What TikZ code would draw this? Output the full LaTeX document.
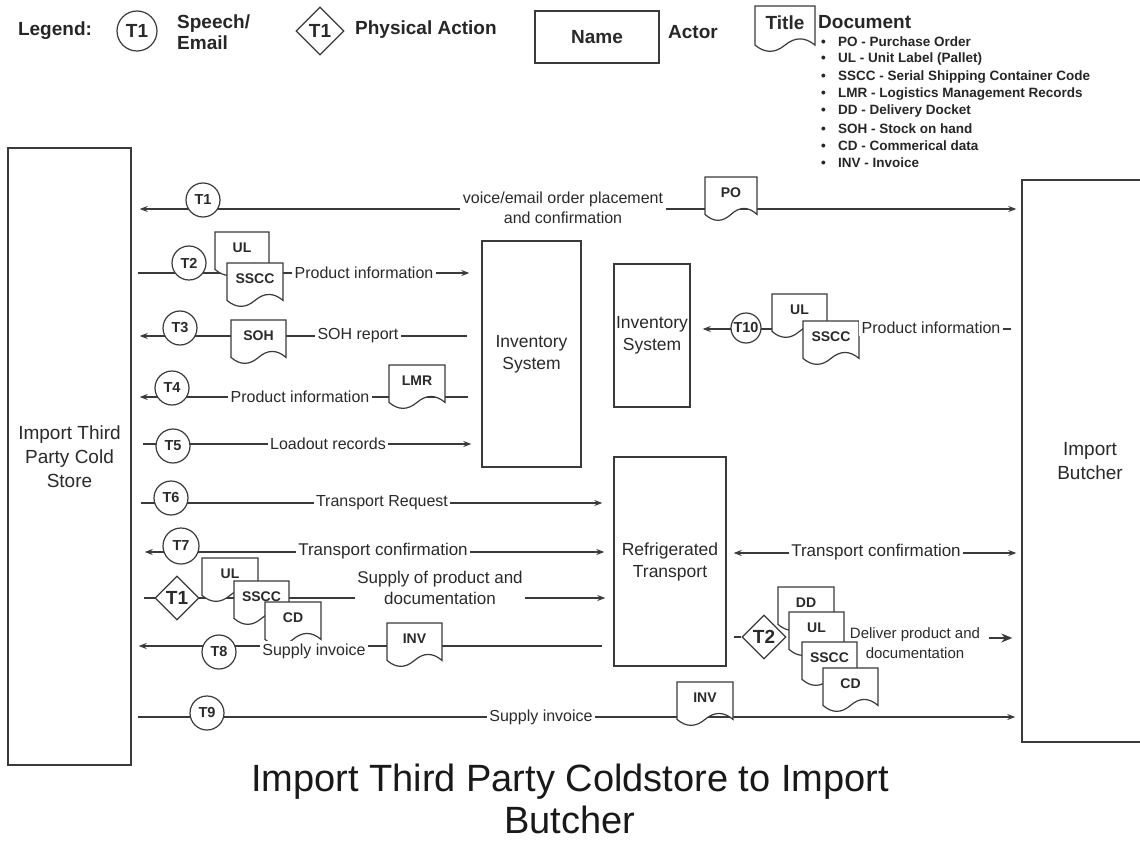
\documentclass[tikz,border=0pt]{standalone}
\usepackage{fontspec}
\setmainfont{Liberation Sans}
\usetikzlibrary{shapes.geometric,arrows.meta,calc}
\pgfdeclarelayer{bg}
\pgfsetlayers{bg,main}
\definecolor{lc}{HTML}{3A3A3A}
\definecolor{txt}{HTML}{2A2A2A}
\newcommand\fLbl{\fontsize{16}{20}\selectfont}
\newcommand\fLblB{\fontsize{17}{21}\selectfont}
\newcommand\fLblS{\fontsize{15}{20}\selectfont}
\newcommand\fAct{\fontsize{19}{24}\selectfont}
\newcommand\fActs{\fontsize{17.5}{22}\selectfont}
\newcommand\fCir{\fontsize{14.5}{16}\selectfont\bfseries}
\newcommand\fDia{\fontsize{19}{20}\selectfont\bfseries}
\newcommand\fDoc{\fontsize{14}{16}\selectfont\bfseries}
\newcommand\fLeg{\fontsize{19}{21}\selectfont\bfseries}
\newcommand\fBul{\fontsize{13.5}{16}\selectfont\bfseries}
\newcommand\fTitle{\fontsize{38}{42}\selectfont}
% document shape: name, x left, y top, width, height, label
\newcommand\docnode[6]{%
  \draw[docshape] (#2,#3) -- (#2+#4,#3) -- (#2+#4,#3+0.85*#5)
    .. controls (#2+0.8333*#4,#3+0.67*#5) and (#2+0.6667*#4,#3+0.67*#5) .. (#2+0.5*#4,#3+0.85*#5)
    .. controls (#2+0.3333*#4,#3+1.03*#5) and (#2+0.1667*#4,#3+1.03*#5) .. (#2,#3+0.85*#5) -- cycle;
  \node[doclabel] (#1) at (#2+0.5*#4,#3+0.36*#5) {#6};}
\begin{document}
\begin{tikzpicture}[x=1pt,y=-1pt,
  >={Stealth[length=8pt,width=6pt]},
  actor/.style={draw=lc, line width=1.4pt, fill=white, align=center, font=\fAct, text=txt, inner sep=0pt},
  tcirc/.style={circle, draw=lc, line width=1.2pt, fill=white, minimum size=34pt, inner sep=0pt, font=\fCir, text=txt},
  tdiam/.style={diamond, draw=lc, line width=1.2pt, fill=white, minimum width=44pt, minimum height=44pt, inner sep=0pt, font=\fDia, text=txt},
  lbl/.style={fill=white, inner sep=2.5pt, font=\fLbl, text=txt, align=center},
  doclabel/.style={font=\fDoc, text=txt, inner sep=0pt},
  docshape/.style={draw=lc, line width=1.2pt, fill=white},
  conn/.style={draw=lc, line width=1.2pt},
  leg/.style={font=\fLeg, text=black!85, inner sep=0pt, align=left},
  bul/.style={font=\fBul, text=black!85, inner sep=0pt}
]
\useasboundingbox (0,0) rectangle (1140,845);

% ---------- legend ----------
\node[leg] (legt) at (55,31) {Legend:};
\node[tcirc, minimum size=40pt, font=\fDia] (lc1) at (137,31) {T1};
\node[leg, anchor=west] (lse) at (177,32) {Speech/\\Email};
\node[tdiam, minimum width=48pt, minimum height=48pt] (ld1) at (320,31) {T1};
\node[leg, anchor=west] (lpa) at (355,30) {Physical Action};
\node[actor, minimum width=124pt, minimum height=52pt, font=\fLeg] (lname) at (597,37) {Name};
\node[leg, anchor=west] (lact) at (668,32) {Actor};
\docnode{ltitle}{755}{6}{60}{46}{\fLeg Title}
\node[leg, anchor=west] (ldoc) at (818,22) {Document};
\foreach \t [count=\i from 0] in {PO - Purchase Order, UL - Unit Label (Pallet), SSCC - Serial Shipping Container Code, LMR - Logistics Management Records, DD - Delivery Docket, SOH - Stock on hand, CD - Commerical data, INV - Invoice}
  \node[bul, anchor=west] (b\i) at (821,42+17.3*\i) {\makebox[17pt][l]{•}\t};

% ---------- actors ----------
\node[actor, minimum width=123pt, minimum height=617pt] (cold) at (69.5,456.5) {Import Third\\Party Cold\\Store};
\node[actor, minimum width=136pt, minimum height=562pt] (butcher) at (1090,461) {Import\\Butcher};
\node[actor, minimum width=99pt, minimum height=226pt, font=\fActs] (invbig) at (531.5,354) {Inventory\\System};
\node[actor, minimum width=76pt, minimum height=143pt, font=\fActs] (invsmall) at (652,335.5) {Inventory\\System};
\node[actor, minimum width=112pt, minimum height=209pt, font=\fActs] (refrig) at (670,561.5) {Refrigerated\\Transport};

% ---------- T1 ----------
\node[tcirc] (c1) at (203,200) {T1};
\node[lbl] (l1) at (563,208) {voice/email order placement\\and confirmation};
\docnode{po}{705}{177}{52}{44}{PO}
% ---------- T2 ----------
\node[tcirc] (c2) at (189,263) {T2};
\docnode{ul2}{215}{232}{54}{44}{UL}
\docnode{sscc2}{227}{263}{56}{44}{SSCC}
\node[lbl] (l2) at (364,273) {Product information};
% ---------- T3 ----------
\node[tcirc] (c3) at (180,328) {T3};
\docnode{soh}{231}{320}{55}{44}{SOH}
\node[lbl] (l3) at (358,336) {SOH report};
% ---------- T4 ----------
\node[tcirc] (c4) at (172,388) {T4};
\node[lbl] (l4) at (300,397) {Product information};
\docnode{lmr}{389}{365}{56}{44}{LMR}
% ---------- T5 ----------
\node[tcirc] (c5) at (173,446) {T5};
\node[lbl] (l5) at (328,444) {Loadout records};
% ---------- T6 ----------
\node[tcirc] (c6) at (171,498) {T6};
\node[lbl] (l6) at (382,503) {Transport Request};
% ---------- T7 ----------
\node[tcirc, minimum size=36pt] (c7) at (181,546) {T7};
\node[lbl, font=\fLblB] (l7) at (383,551) {Transport confirmation};
% ---------- supply ----------
\node[tdiam] (d1) at (177,598) {T1};
\docnode{ulS}{202}{558}{56}{44}{UL}
\docnode{ssccS}{234}{581}{55}{44}{SSCC}
\docnode{cdS}{265}{602}{56}{44}{CD}
\node[lbl, font=\fLblB] (lS) at (440,588) {Supply of product and\\documentation};
% ---------- T8 ----------
\node[tcirc] (c8) at (219,652) {T8};
\node[lbl] (l8) at (314,651) {Supply invoice};
\docnode{inv8}{387}{623}{55}{44}{INV}
% ---------- T9 ----------
\node[tcirc] (c9) at (207,713) {T9};
\node[lbl] (l9) at (541,717) {Supply invoice};
\docnode{inv9}{677}{682}{56}{44}{INV}
% ---------- T10 ----------
\node[tcirc, minimum size=30pt] (c10) at (746,328) {T10};
\docnode{ul10}{772}{294}{55}{44}{UL}
\docnode{sscc10}{803}{321}{56}{44}{SSCC}
\node[lbl] (l10) at (931,328) {Product information};
% ---------- transport confirmation right ----------
\node[lbl, font=\fLblB] (ltc) at (876,552) {Transport confirmation};
% ---------- T2 delivery ----------
\node[tdiam] (d2) at (764,637) {T2};
\docnode{dd}{778}{587}{56}{44}{DD}
\docnode{ulD}{789}{612}{55}{44}{UL}
\docnode{ssccD}{802}{642}{55}{44}{SSCC}
\docnode{cdD}{823}{668}{55}{44}{CD}
\node[lbl, font=\fLblS, fill=none, inner sep=0pt] (ld) at (915,643) {Deliver product and\\documentation};
\coordinate (dvs) at (989,638);

% ---------- title ----------
\node[font=\fTitle, align=center, text=black!90] (title) at (570,799) {Import Third Party Coldstore to Import\\Butcher};

% ---------- connectors ----------
\begin{pgfonlayer}{bg}
\draw[conn,<->,shorten <=8pt,shorten >=5pt] (cold.east |- 0,209) -- (butcher.west |- 0,209);
\draw[conn,->,shorten <=6pt,shorten >=12pt] (cold.east |- 0,273) -- (invbig.west |- 0,273);
\draw[conn,<-,shorten <=8pt,shorten >=14pt] (cold.east |- 0,336) -- (invbig.west |- 0,336);
\draw[conn,<-,shorten <=8pt,shorten >=13pt] (cold.east |- 0,397) -- (invbig.west |- 0,397);
\draw[conn,->,shorten <=11pt,shorten >=10pt] (cold.east |- 0,444) -- (invbig.west |- 0,444);
\draw[conn,->,shorten <=9pt,shorten >=11pt] (cold.east |- 0,503) -- (refrig.west |- 0,503);
\draw[conn,<->,shorten <=13pt,shorten >=9pt] (cold.east |- 0,552) -- (refrig.west |- 0,552);
\draw[conn,->,shorten <=12pt,shorten >=8pt] (cold.east |- 0,598) -- (refrig.west |- 0,598);
\draw[conn,<-,shorten <=7pt,shorten >=11pt] (cold.east |- 0,646) -- (refrig.west |- 0,646);
\draw[conn,->,shorten <=6pt,shorten >=6pt] (cold.east |- 0,717) -- (butcher.west |- 0,717);
\draw[conn,->,shorten <=10pt,shorten >=12pt] (butcher.west |- 0,329) -- (invsmall.east |- 0,329);
\draw[conn,<->,shorten <=7pt,shorten >=5pt] (refrig.east |- 0,553) -- (butcher.west |- 0,553);
\draw[conn,shorten <=7pt] (refrig.east |- d2) -- (d2);
\draw[conn,line width=1.5pt,-{Stealth[length=11pt,width=9pt]},shorten >=9pt] (dvs) -- (butcher.west |- dvs);
\end{pgfonlayer}
\end{tikzpicture}
\end{document}
